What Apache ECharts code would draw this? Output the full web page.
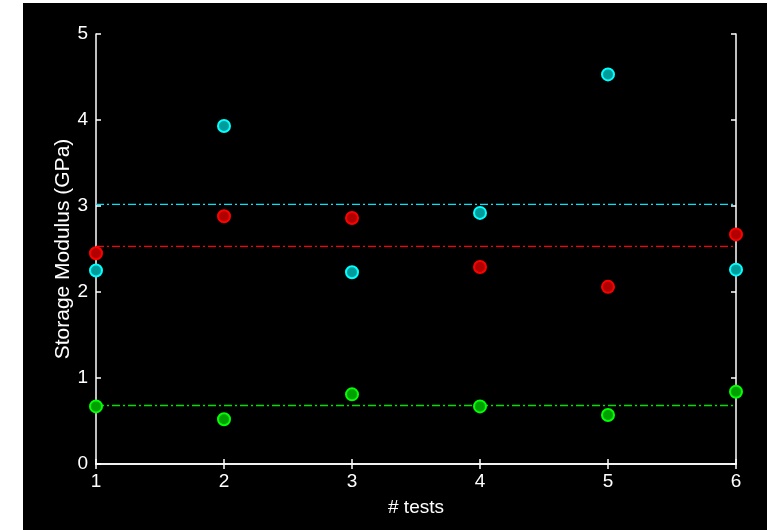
<!DOCTYPE html>
<html>
<head>
<meta charset="utf-8">
<script src="https://cdn.jsdelivr.net/npm/echarts@6/dist/echarts.min.js"></script>
<style>
html,body{margin:0;padding:0;background:#fff;width:779px;height:530px;overflow:hidden;}
#bg{position:absolute;left:23px;top:3px;width:744px;height:527px;background:#000;}
#chart{position:absolute;left:0;top:0;width:779px;height:530px;}
</style>
</head>
<body>
<div id="bg"></div>
<div id="chart"></div>
<script>
const tests = [1, 2, 3, 4, 5, 6];
const cyanValues = [2.25, 3.93, 2.23, 2.92, 4.53, 2.26];
const redValues = [2.45, 2.88, 2.86, 2.29, 2.06, 2.67];
const greenValues = [0.67, 0.52, 0.81, 0.67, 0.57, 0.84];
const cyanMean = 3.02;
const redMean = 2.53;
const greenMean = 0.68;
const yTicks = [0, 1, 2, 3, 4, 5];

const font = 'Liberation Sans, Arial, sans-serif';
function pts(vals){ return tests.map((t,i)=>[t, vals[i]]); }
function meanLine(m){ return [[tests[0], m],[tests[tests.length-1], m]]; }
function scat(name, vals, edge, fill){
  return {name, type:'scatter', data:pts(vals), symbol:'circle', symbolSize:12, clip:false, z:5,
    itemStyle:{color:fill, borderColor:edge, borderWidth:2, opacity:1}};
}
function line(name, m, color){
  return {name, type:'line', data:meanLine(m), showSymbol:false, symbol:'none', z:3,
    lineStyle:{color, width:1.3, type:[8,3,2,3]}, silent:true};
}
const chart = echarts.init(document.getElementById('chart'), null, {renderer:'canvas'});
const axisCommon = {
  axisLine:{show:true, lineStyle:{color:'#fff', width:1.5}},
  axisTick:{show:true, inside:true, length:5, lineStyle:{color:'#fff', width:1.5}},
  splitLine:{show:false}
};
chart.setOption({
  backgroundColor:'transparent',
  animation:false,
  grid:{left:96, right:43, top:34, bottom:66, containLabel:false},
  xAxis:[
    Object.assign({type:'value', min:1, max:6, interval:1, position:'bottom',
      name:'# tests', nameLocation:'middle', nameGap:34,
      nameTextStyle:{color:'#fff', fontSize:19, fontFamily:font},
      axisLabel:{color:'#fff', fontSize:19, fontFamily:font, margin:8}}, axisCommon),
    Object.assign({type:'value', min:1, max:6, interval:1, position:'top',
      axisLabel:{show:false}}, axisCommon)
  ],
  yAxis:[
    Object.assign({type:'value', min:yTicks[0], max:yTicks[yTicks.length-1], interval:1, position:'left',
      name:'Storage Modulus (GPa)', nameLocation:'middle', nameGap:22, nameMoveOverlap:false,
      nameTextStyle:{color:'#fff', fontSize:21, fontFamily:font},
      axisLabel:{color:'#fff', fontSize:19, fontFamily:font, margin:8}}, axisCommon),
    Object.assign({type:'value', min:yTicks[0], max:yTicks[yTicks.length-1], interval:1, position:'right',
      axisLabel:{show:false}}, axisCommon)
  ],
  series:[
    line('cyanMean', cyanMean, '#00e5ff'),
    line('redMean', redMean, '#ff0000'),
    line('greenMean', greenMean, '#00e000'),
    scat('cyan', cyanValues, '#00ffff', '#009c9c'),
    scat('red', redValues, '#ff0000', '#b00000'),
    scat('green', greenValues, '#00ff00', '#00a000')
  ]
});
</script>
</body>
</html>
